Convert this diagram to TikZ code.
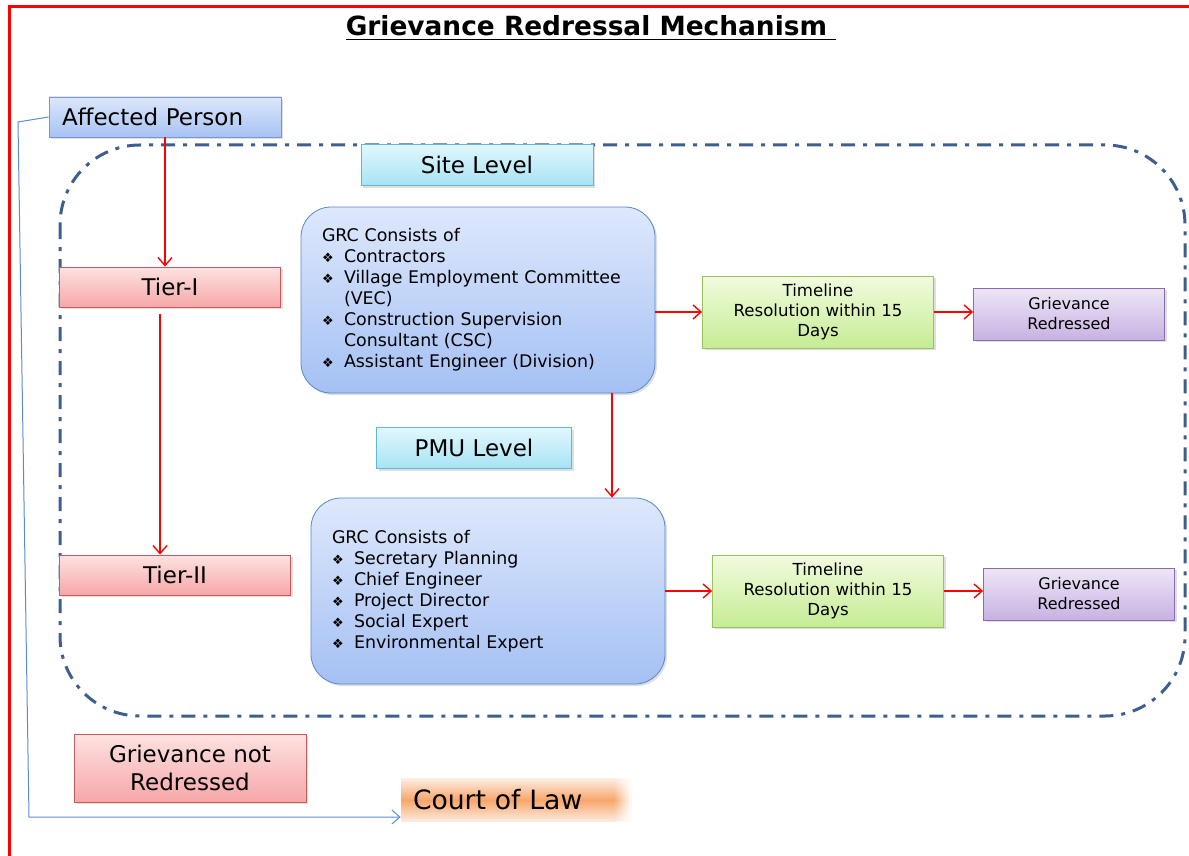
\documentclass[tikz,border=0pt]{standalone}
\usepackage{fontspec}
\setmainfont{DejaVu Sans}
\usetikzlibrary{positioning,shadows,arrows.meta,fadings}

\definecolor{apTop}{HTML}{DCE7FB}\definecolor{apBot}{HTML}{A7C3F3}\definecolor{apDraw}{HTML}{7896CF}
\definecolor{tierTop}{HTML}{FDE2E2}\definecolor{tierBot}{HTML}{F7A7A7}\definecolor{tierDraw}{HTML}{C75B5B}
\definecolor{grcTop}{HTML}{DEE8FC}\definecolor{grcBot}{HTML}{A4C0F4}\definecolor{grcDraw}{HTML}{5A87C6}
\definecolor{siteTop}{HTML}{E2F7FD}\definecolor{siteBot}{HTML}{A6E3F4}\definecolor{siteDraw}{HTML}{5FB8D8}
\definecolor{tlTop}{HTML}{F2FBDE}\definecolor{tlBot}{HTML}{C6EC94}\definecolor{tlDraw}{HTML}{97C25C}
\definecolor{grTop}{HTML}{EEE6F6}\definecolor{grBot}{HTML}{C7B2E3}\definecolor{grDraw}{HTML}{8A6BB1}
\definecolor{clMid}{HTML}{F7A66B}\definecolor{clEdge}{HTML}{FDEDE2}
\definecolor{zoneLine}{HTML}{3E5E8E}\definecolor{courtLine}{HTML}{5B8BD0}

\newcommand{\dia}{\makebox[11pt][l]{\fontsize{6.5}{6.5}\selectfont ❖}}

\begin{document}
\begin{tikzpicture}[x=0.5pt,y=-0.5pt,>={Straight Barb[length=4pt,width=7pt]},
    box node/.style={rectangle,draw,inner sep=2pt,align=center,
      drop shadow={opacity=0.25,shadow xshift=1pt,shadow yshift=-1pt}},
    person node/.style={box node,top color=apTop,bottom color=apBot,draw=apDraw,
      text width=103pt,inner xsep=6.5pt,align=left,minimum height=20pt,font=\fontsize{11.5}{13}\selectfont},
    tier node/.style={box node,top color=tierTop,bottom color=tierBot,draw=tierDraw,
      minimum height=20pt,font=\fontsize{11.5}{14}\selectfont},
    level node/.style={box node,top color=siteTop,bottom color=siteBot,draw=siteDraw,
      minimum height=20.5pt,font=\fontsize{11.5}{13}\selectfont},
    grc node/.style={box node,rounded corners=15pt,top color=grcTop,bottom color=grcBot,draw=grcDraw,
      text width=156pt,inner xsep=10.5pt,minimum height=93pt,align=left,
      font=\fontsize{8.7}{10.5}\selectfont},
    time node/.style={box node,top color=tlTop,bottom color=tlBot,draw=tlDraw,
      minimum width=115.5pt,minimum height=36pt,font=\fontsize{8.3}{10}\selectfont},
    done node/.style={box node,top color=grTop,bottom color=grBot,draw=grDraw,
      minimum width=95.5pt,minimum height=26pt,font=\fontsize{8}{10}\selectfont},
    flow/.style={->,red,line width=0.7pt}]

  \useasboundingbox (0,0) rectangle (1189,856);
  \draw[red,line width=1.5pt] (1200,7) -- (9,7) -- (9,870);

  \node (title) at (591,28) {\fontsize{13.2}{15}\selectfont\bfseries\underline{Grievance Redressal Mechanism\ }};

  % levels zone
  \draw[zoneLine,line width=1.5pt,rounded corners=40pt,
    dash pattern=on 7pt off 4pt on 2pt off 4pt] (60,145) rectangle (1185,716);

  \node[person node] (person) at (165,117) {Affected Person};
  \node[level node,minimum width=116pt] (site) at (477,165) {Site Level};
  \node[tier node,minimum width=110.5pt] (tier1) at (170,287) {Tier-I};
  \node[grc node] (grc1) at (478,300) {GRC Consists of\\
    \dia Contractors\\
    \dia Village Employment Committee\\
    \hspace*{11pt}(VEC)\\
    \dia Construction Supervision\\
    \hspace*{11pt}Consultant (CSC)\\
    \dia Assistant Engineer (Division)};
  \node[time node] (time1) at (818,312) {Timeline\\Resolution within 15\\Days};
  \node[done node] (done1) at (1069,314) {Grievance\\Redressed};

  \node[level node,minimum width=97.5pt] (pmu) at (474,448) {PMU Level};
  \node[tier node,minimum width=115.5pt] (tier2) at (175,575) {Tier-II};
  \node[grc node] (grc2) at (488,591) {GRC Consists of\\
    \dia Secretary Planning\\
    \dia Chief Engineer\\
    \dia Project Director\\
    \dia Social Expert\\
    \dia Environmental Expert};
  \node[time node] (time2) at (828,591) {Timeline\\Resolution within 15\\Days};
  \node[done node] (done2) at (1079,594) {Grievance\\Redressed};

  \node[tier node,minimum width=116pt,minimum height=34pt] (notdone) at (190,768) {Grievance not\\Redressed};
  \node[rectangle,top color=clEdge,bottom color=clEdge,middle color=clMid,
    text width=103pt,inner xsep=6pt,minimum height=21.5pt,align=left,
    font=\fontsize{13.3}{15}\selectfont] (court) at (516,800) {Court of Law};
  \fill[white,path fading=west] (court.north east) ++(-9pt,0) rectangle (court.south east);

  \path[flow] (person.south) edge (person.south |- tier1.north)
    ([xshift=-5pt]tier1.south) edge[shorten <=3.5pt] ([xshift=-5pt]tier1.south |- tier2.north)
    (grc1.east |- time1.west) edge (time1.west)
    (time1.east) edge (time1.east -| done1.west)
    ([xshift=67pt]grc1.south) edge ([xshift=67pt]grc1.south |- grc2.north)
    (grc2.east |- time2.west) edge (time2.west)
    (time2.east) edge (time2.east -| done2.west);

  \coordinate (turn1) at (18,122);
  \coordinate (turn2) at (29,817);
  \draw[->,courtLine,line width=0.5pt] (person.west) -- (turn1) -- (turn2) -- (turn2 -| court.west);

\end{tikzpicture}
\end{document}
